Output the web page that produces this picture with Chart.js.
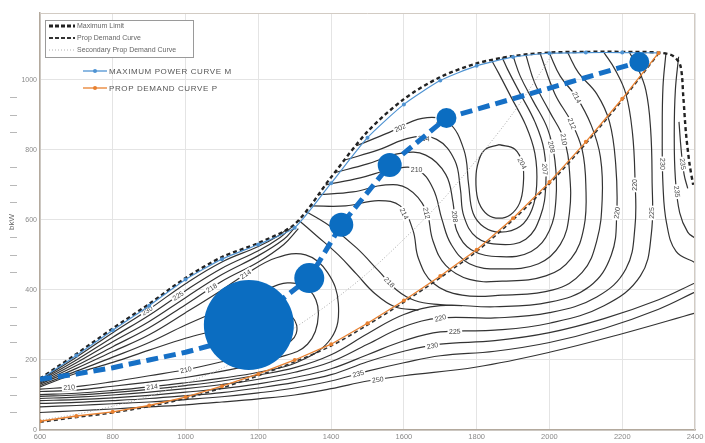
<!DOCTYPE html>
<html>
<head>
<meta charset="utf-8">
<script src="https://cdn.jsdelivr.net/npm/chart.js@4.4.0/dist/chart.umd.min.js"></script>
<style>
  html, body { margin: 0; padding: 0; background: #fff; }
</style>
</head>
<body>
<canvas id="graficoMapa" width="705" height="443"></canvas>
<script>
// eixos
const rpmMin = 600, rpmMax = 2400, kwMin = 0, kwMax = 1191;

// curvas principais (rpm, kW)
const maxLimit = [[600,147],[700,217],[800,290],[900,360],[1000,434],[1100,494],[1200,534],[1300,588],[1400,722],[1500,852],[1600,945],[1700,1008],[1800,1047],[1900,1068],[2000,1078],[2100,1080],[2200,1080],[2300,1078],[2340,1068],[2360,1040],[2368,950],[2375,850],[2385,760],[2395,700]];
const maxPowerM = [[600,145],[700,213],[800,285],[900,355],[1000,430],[1100,488],[1200,530],[1300,578],[1400,705],[1500,835],[1600,930],[1700,998],[1800,1040],[1900,1065],[2000,1076],[2100,1078],[2200,1078],[2300,1077]];
const propDemandP = [[600,25],[700,40],[800,52],[900,70],[1000,94],[1100,125],[1200,160],[1300,200],[1400,245],[1500,305],[1600,370],[1700,440],[1800,515],[1900,605],[2000,708],[2100,823],[2200,946],[2300,1077]];
const propDemand = [[600,22],[700,36],[800,49],[900,67],[1000,90],[1100,120],[1200,155],[1300,195],[1400,240],[1500,300],[1600,365],[1700,435],[1800,510],[1900,600],[2000,703],[2100,818],[2200,942],[2300,1075]];
const secondaryProp = [[600,28],[700,45],[800,68],[900,97],[1000,133],[1100,176],[1200,230],[1300,292],[1400,365],[1500,448],[1600,545],[1700,650],[1800,772],[1900,905],[2000,1060],[2010,1078]];
// pontos de operação: rpm, kW, raio
const operatingLine = [[600,145,0],[700,160,0],[800,178,0],[900,200,0],[1000,222,0],[1100,250,0],[1174,300,45],[1340,434,15],[1428,586,12],[1561,757,12],[1717,891,10],[2247,1051,10]];

// linhas de consumo (g/kWh)
const c204 = [[1862,815],[1905,802],[1926,760],[1928,700],[1918,648],[1893,615],[1862,605],[1830,615],[1806,650],[1798,700],[1802,755],[1822,800],[1862,815]];
const u206 = [[1470,812],[1560,850],[1650,890],[1720,880],[1765,800],[1778,700],[1790,620],[1820,580],[1865,565],[1920,582],[1952,630],[1965,700],[1960,790],[1935,870],[1895,950],[1860,1020],[1840,1058]];
const u207 = [[1440,772],[1530,800],[1620,835],[1690,830],[1740,770],[1755,690],[1765,610],[1800,550],[1865,530],[1935,545],[1975,610],[1990,700],[1985,800],[1960,880],[1920,960],[1885,1030],[1870,1064]];
const u208 = [[1410,735],[1500,760],[1590,790],[1660,785],[1715,730],[1735,650],[1745,570],[1785,515],[1865,495],[1950,510],[2000,570],[2018,660],[2015,770],[1995,860],[1955,940],[1920,1010],[1900,1068]];
const u210 = [[1385,700],[1480,720],[1570,745],[1635,745],[1680,690],[1705,600],[1730,530],[1780,475],[1865,460],[1970,475],[2030,530],[2055,620],[2055,740],[2040,830],[2000,910],[1960,990],[1935,1072]];
const u212 = [[1365,672],[1460,680],[1550,700],[1610,690],[1660,630],[1680,540],[1715,470],[1780,430],[1870,425],[1990,440],[2060,490],[2095,580],[2100,700],[2090,800],[2060,880],[2015,960],[1975,1074]];
const u214 = [[1345,640],[1440,640],[1530,655],[1590,640],[1625,570],[1640,490],[1680,420],[1760,385],[1870,385],[2010,400],[2090,450],[2130,540],[2145,660],[2140,780],[2115,870],[2075,950],[2030,1010],[2000,1076]];
const s218a = [[1330,625],[1400,580],[1470,520],[1530,455],[1580,400],[1630,370],[1700,358],[1760,355]];
const s218b = [[1310,600],[1360,555],[1420,500],[1470,445],[1520,390],[1575,352],[1640,342]];
const t210 = [[600,123],[700,162],[800,193],[900,228],[1000,262],[1100,290],[1200,325],[1270,338],[1305,300],[1290,255],[1200,222],[1100,195],[1000,172],[900,155],[800,138],[700,124],[600,117]];
const t212 = [[600,127],[700,168],[800,208],[900,250],[1000,300],[1100,345],[1200,390],[1280,420],[1340,400],[1365,330],[1335,245],[1250,205],[1150,178],[1000,150],[900,137],[800,125],[700,114],[600,110]];
const t214 = [[600,131],[700,176],[800,224],[900,272],[1000,335],[1100,400],[1165,445],[1250,492],[1330,500],[1390,450],[1420,360],[1400,262],[1310,195],[1200,165],[1100,148],[1000,135],[908,124],[800,113],[700,105],[600,101]];
const o218 = [[600,134],[700,184],[800,238],[900,292],[1000,358],[1100,425],[1200,480],[1270,530],[1310,575]];
const o220 = [[600,137],[700,192],[800,252],[900,310],[1000,378],[1100,444],[1200,498],[1270,545],[1300,578]];
const o225 = [[600,140],[700,200],[800,265],[900,328],[1000,398],[1100,462],[1200,512],[1260,550],[1290,578]];
const o230 = [[600,143],[700,208],[800,278],[900,345],[1000,418],[1100,480],[1200,524],[1255,555],[1280,575]];
const l218 = [[600,96],[700,100],[800,107],[900,116],[1000,127],[1100,140],[1200,157],[1300,178],[1400,215],[1500,275],[1600,330],[1700,355],[1850,352],[2000,365],[2110,410],[2170,500],[2185,620],[2182,760],[2165,880],[2130,960],[2080,1020],[2050,1078]];
const l220 = [[600,90],[700,94],[800,100],[900,108],[1000,118],[1100,130],[1200,145],[1300,165],[1400,195],[1500,245],[1600,295],[1700,320],[1850,320],[2000,335],[2130,380],[2210,460],[2235,580],[2235,720],[2228,850],[2210,960],[2180,1030],[2150,1078]];
const l225 = [[600,84],[700,87],[800,92],[900,99],[1000,108],[1100,118],[1200,132],[1300,150],[1400,175],[1500,215],[1600,255],[1700,280],[1850,285],[2000,305],[2150,355],[2250,440],[2280,560],[2282,720],[2278,860],[2265,970],[2240,1040],[2220,1078]];
const l230 = [[600,76],[700,79],[800,84],[900,90],[1000,98],[1100,107],[1200,120],[1300,136],[1400,158],[1500,195],[1600,225],[1700,245],[1850,255],[2000,278],[2150,318],[2300,372],[2400,420]];
const l235 = [[600,66],[700,70],[800,75],[900,80],[1000,87],[1100,95],[1200,106],[1300,120],[1400,140],[1500,168],[1600,192],[1700,212],[1850,225],[2000,250],[2150,290],[2300,345],[2400,394]];
const l250 = [[600,50],[700,55],[800,60],[900,66],[1000,72],[1100,80],[1200,89],[1300,100],[1400,118],[1500,140],[1600,155],[1800,180],[2000,222],[2200,275],[2400,334]];
const v230 = [[2320,1075],[2312,980],[2310,850],[2312,700],[2322,590],[2348,510],[2400,478]];
const v235 = [[2355,1066],[2346,970],[2343,850],[2346,720],[2358,620],[2380,565],[2400,548]];
const a235 = [[2356,880],[2362,800],[2370,730],[2380,690]];

const contornos = [c204,u206,u207,u208,u210,u212,u214,s218a,s218b,t210,t212,t214,o218,o220,o225,o230,l218,l220,l225,l230,l235,l250,v230,v235,a235];

// rótulos das linhas (rpm, kW, texto)
const contourLabels = [
  [892,345,'230'],[975,390,'225'],[1072,405,'218'],[1165,445,'214'],
  [680,121,'210'],[908,124,'214'],[1001,172,'210'],
  [1590,862,'202'],[1655,835,'204'],[1705,880,'206'],[1635,745,'210'],[1605,620,'214'],[1665,620,'212'],[1740,610,'208'],
  [1560,422,'218'],
  [1922,760,'204'],[1988,745,'207'],[2010,810,'208'],[2040,830,'210'],[2062,875,'212'],[2075,950,'214'],
  [1700,320,'220'],[1740,282,'225'],[1678,243,'230'],[1474,162,'235'],[1528,145,'250'],
  [2185,620,'220'],[2235,700,'220'],[2281,620,'225'],[2311,760,'230'],[2344,680,'235'],[2368,760,'235']
];

const rpmTicks = [600,800,1000,1200,1400,1600,1800,2000,2200,2400];
const kwTicks = [0,200,400,600,800,1000];

function pares(lista){
  return lista.map(p => ({x: p[0], y: p[1]}));
}

const primeiroContorno = 6;

const conjuntos = [
  {
    label: 'operacao',
    data: pares(operatingLine),
    showLine: true,
    borderColor: '#1670c6',
    borderWidth: 5,
    borderDash: [12, 6],
    pointRadius: operatingLine.map(p => p[2]),
    pointBackgroundColor: '#0b6dc1',
    pointBorderWidth: 0,
    tension: 0
  },
  {
    label: 'PROP DEMAND CURVE P',
    data: pares(propDemandP),
    showLine: true,
    borderColor: '#e8802f',
    borderWidth: 1.3,
    pointRadius: 2,
    pointBackgroundColor: '#e8802f',
    pointBorderWidth: 0,
    tension: 0
  },
  {
    label: 'MAXIMUM POWER CURVE M',
    data: pares(maxPowerM),
    showLine: true,
    borderColor: '#4f93d2',
    borderWidth: 1.2,
    pointRadius: 2,
    pointBackgroundColor: '#4f93d2',
    pointBorderWidth: 0,
    tension: 0.2
  },
  {
    label: 'Maximum Limit',
    data: pares(maxLimit),
    showLine: true,
    borderColor: '#222',
    borderWidth: 2.4,
    borderDash: [4, 3],
    pointRadius: 0,
    tension: 0.3
  },
  {
    label: 'Prop Demand Curve',
    data: pares(propDemand),
    showLine: true,
    borderColor: '#333',
    borderWidth: 1.6,
    borderDash: [4, 3],
    pointRadius: 0,
    tension: 0.3
  },
  {
    label: 'Secondary Prop Demand Curve',
    data: pares(secondaryProp),
    showLine: true,
    borderColor: '#a9a9a9',
    borderWidth: 1,
    borderDash: [1, 2],
    pointRadius: 0,
    tension: 0.3
  }
];

contornos.forEach(c => {
  conjuntos.push({
    label: 'contorno',
    data: pares(c),
    showLine: true,
    borderColor: '#333',
    borderWidth: 1.2,
    pointRadius: 0,
    tension: 0.4
  });
});

// rótulos das isolinhas, colocados sobre a linha mais próxima
const rotulos = {
  id: 'rotulos',
  afterDatasetDraw(chart, args){
    if (args.index !== primeiroContorno) return;
    const {ctx, chartArea, scales: {x, y}} = chart;
    ctx.save();
    ctx.beginPath();
    ctx.rect(chartArea.left, chartArea.top, chartArea.right - chartArea.left, chartArea.bottom - chartArea.top);
    ctx.clip();
    ctx.font = '7px Arial';
    ctx.textAlign = 'center';
    ctx.textBaseline = 'middle';
    contourLabels.forEach(([r, k, txt]) => {
      const px = x.getPixelForValue(r), py = y.getPixelForValue(k);
      let melhor = {d: Infinity, x: px, y: py, a: 0};
      contornos.forEach(c => {
        for (let i = 0; i < c.length - 1; i++){
          const ax = x.getPixelForValue(c[i][0]), ay = y.getPixelForValue(c[i][1]);
          const bx = x.getPixelForValue(c[i+1][0]), by = y.getPixelForValue(c[i+1][1]);
          const dx = bx - ax, dy = by - ay;
          const len2 = dx*dx + dy*dy || 1;
          let t = ((px - ax)*dx + (py - ay)*dy) / len2;
          t = Math.max(0, Math.min(1, t));
          const qx = ax + t*dx, qy = ay + t*dy;
          const d = (qx - px)**2 + (qy - py)**2;
          if (d < melhor.d) melhor = {d, x: qx, y: qy, a: Math.atan2(dy, dx)};
        }
      });
      let ang = melhor.a;
      if (ang > Math.PI/2) ang -= Math.PI;
      if (ang < -Math.PI/2) ang += Math.PI;
      ctx.save();
      ctx.translate(melhor.x, melhor.y);
      ctx.rotate(ang);
      const w = ctx.measureText(txt).width + 3;
      ctx.fillStyle = '#fff';
      ctx.fillRect(-w/2, -4, w, 8);
      ctx.fillStyle = '#444';
      ctx.fillText(txt, 0, 0.5);
      ctx.restore();
    });
    ctx.restore();
  }
};

// legendas, título do eixo e moldura
const extras = {
  id: 'extras',
  afterDraw(chart){
    const {ctx, chartArea, scales: {y}} = chart;
    ctx.save();
    // moldura
    ctx.strokeStyle = '#d2cbc3';
    ctx.lineWidth = 1;
    ctx.beginPath();
    ctx.moveTo(chartArea.left, chartArea.top + 0.5);
    ctx.lineTo(chartArea.right - 0.5, chartArea.top + 0.5);
    ctx.lineTo(chartArea.right - 0.5, chartArea.bottom);
    ctx.stroke();

    // traços menores à esquerda
    ctx.strokeStyle = '#b8b8b8';
    for (let v = 50; v < 1000; v += 50){
      if (v % 200 === 0) continue;
      const py = Math.round(y.getPixelForValue(v)) + 0.5;
      ctx.beginPath();
      ctx.moveTo(10, py);
      ctx.lineTo(17, py);
      ctx.stroke();
    }

    // título do eixo y
    ctx.fillStyle = '#666';
    ctx.font = '8px Arial';
    ctx.textAlign = 'center';
    ctx.textBaseline = 'middle';
    ctx.translate(12, 222);
    ctx.rotate(-Math.PI/2);
    ctx.fillText('bkW', 0, 0);
    ctx.restore();

    // caixa da legenda superior
    ctx.save();
    ctx.fillStyle = '#fff';
    ctx.fillRect(45, 20, 148, 37);
    ctx.strokeStyle = '#9a9a9a';
    ctx.lineWidth = 1;
    ctx.strokeRect(45.5, 20.5, 148, 37);
    ctx.font = '7px Arial';
    ctx.textBaseline = 'middle';
    ctx.textAlign = 'left';
    const itens = [
      {txt: 'Maximum Limit', cor: '#222', w: 3, dash: [4, 2], y: 26},
      {txt: 'Prop Demand Curve', cor: '#333', w: 2, dash: [4, 2], y: 38},
      {txt: 'Secondary Prop Demand Curve', cor: '#b0b0b0', w: 1, dash: [1, 2], y: 50}
    ];
    itens.forEach(it => {
      ctx.strokeStyle = it.cor;
      ctx.lineWidth = it.w;
      ctx.setLineDash(it.dash);
      ctx.beginPath();
      ctx.moveTo(49, it.y);
      ctx.lineTo(75, it.y);
      ctx.stroke();
      ctx.setLineDash([]);
      ctx.fillStyle = '#666';
      ctx.fillText(it.txt, 77, it.y);
    });

    // segunda legenda
    ctx.font = '8px Arial';
    ctx.letterSpacing = '0.6px';
    const itens2 = [
      {txt: 'MAXIMUM POWER CURVE M', cor: '#4f93d2', y: 71},
      {txt: 'PROP DEMAND CURVE P', cor: '#e8802f', y: 88}
    ];
    itens2.forEach(it => {
      ctx.strokeStyle = it.cor;
      ctx.lineWidth = 1.3;
      ctx.beginPath();
      ctx.moveTo(83, it.y);
      ctx.lineTo(107, it.y);
      ctx.stroke();
      ctx.fillStyle = it.cor;
      ctx.beginPath();
      ctx.arc(95, it.y, 2, 0, Math.PI*2);
      ctx.fill();
      ctx.fillStyle = '#555';
      ctx.fillText(it.txt, 109, it.y + 0.5);
    });
    ctx.restore();
  }
};

const graficoMapa = new Chart(document.getElementById('graficoMapa'), {
  type: 'scatter',
  data: { datasets: conjuntos },
  options: {
    responsive: false,
    animation: false,
    devicePixelRatio: 1,
    layout: { padding: { top: 13, right: 6, left: 0, bottom: 0 } },
    plugins: { legend: { display: false }, tooltip: { enabled: false } },
    scales: {
      x: {
        type: 'linear',
        min: rpmMin,
        max: rpmMax,
        afterBuildTicks: s => { s.ticks = rpmTicks.map(v => ({value: v})); },
        afterFit: s => { s.height = 13; s.paddingLeft = 0; s.paddingRight = 0; },
        grid: { color: '#e4e4e4', drawTicks: false },
        border: { color: '#b3a99d', width: 1.5 },
        ticks: { color: '#8a8a8a', font: { size: 7.5, family: 'Arial' }, padding: 2, maxRotation: 0, autoSkip: false, callback: v => String(v) }
      },
      y: {
        type: 'linear',
        min: kwMin,
        max: kwMax,
        afterBuildTicks: s => { s.ticks = kwTicks.map(v => ({value: v})); },
        afterFit: s => { s.width = 40; },
        grid: { color: '#e4e4e4', drawTicks: false },
        border: { color: '#b3a99d', width: 1.5 },
        ticks: { color: '#8a8a8a', font: { size: 7, family: 'Arial' }, padding: 3, callback: v => String(v) }
      }
    }
  },
  plugins: [rotulos, extras]
});
</script>
</body>
</html>
